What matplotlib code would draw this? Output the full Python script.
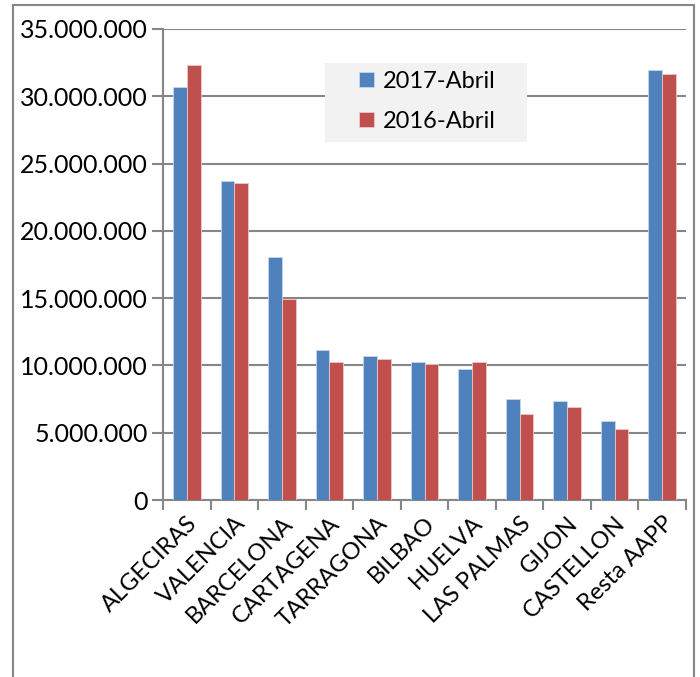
import numpy as np
import matplotlib
matplotlib.use("Agg")
import matplotlib.pyplot as plt
from matplotlib.patches import Rectangle
from matplotlib.ticker import FuncFormatter, FixedLocator

puertos = ["ALGECIRAS", "VALENCIA", "BARCELONA", "CARTAGENA", "TARRAGONA", "BILBAO",
           "HUELVA", "LAS PALMAS", "GIJON", "CASTELLON", "Resta AAPP"]
abril_2017 = [30680000, 23700000, 18030000, 11140000, 10700000, 10230000,
              9730000, 7500000, 7360000, 5850000, 31950000]
abril_2016 = [32300000, 23530000, 14930000, 10250000, 10450000, 10080000,
              10230000, 6370000, 6930000, 5280000, 31650000]
series = ["2017-Abril", "2016-Abril"]

plt.rcParams["font.family"] = ["Lato", "DejaVu Sans"]

W, H = 700, 677
fig = plt.figure(figsize=(W / 100, H / 100), dpi=100)
ax_l, ax_r, ax_t, ax_b = 163, 686, 29, 500
ax = fig.add_axes([ax_l / W, 1 - ax_b / H, (ax_r - ax_l) / W, (ax_b - ax_t) / H])

def px(xp, yp):
    # pixel de la imagen -> coordenadas de ejes
    return (xp - ax_l) / (ax_r - ax_l), (ax_b - yp) / (ax_b - ax_t)

x = np.arange(len(puertos))
w = 0.29
ax.bar(x - w / 2, abril_2017, w, color="#4F81BD", edgecolor="#c8d6ea", linewidth=0.6,
       label=series[0], zorder=3)
ax.bar(x + w / 2, abril_2016, w, color="#C0504D", edgecolor="#ecc8c7", linewidth=0.6,
       label=series[1], zorder=3)

ax.set_xlim(-0.5, len(puertos) - 0.5)
ax.set_ylim(0, 35000000)
ax.set_yticks(np.arange(0, 35000001, 5000000))
ax.yaxis.set_major_formatter(FuncFormatter(lambda v, p: f"{int(v):,}".replace(",", ".")))
ax.grid(axis="y", color="#868686", linewidth=1.5, zorder=0)

ax.set_xticks(x)
ax.set_xticklabels(puertos, rotation=45, ha="right", rotation_mode="anchor", fontsize=17)
ax.xaxis.set_minor_locator(FixedLocator(np.arange(-0.5, len(puertos), 1)))
ax.tick_params(axis="x", which="major", length=0, pad=9)
ax.tick_params(axis="x", which="minor", length=7, width=1.5, color="#868686")
ax.tick_params(axis="y", length=8, width=1.5, color="#868686", labelsize=18, pad=3)

for s in ["top", "right"]:
    ax.spines[s].set_visible(False)
for s in ["left", "bottom"]:
    ax.spines[s].set_color("#868686")
    ax.spines[s].set_linewidth(1.5)

# fondo de la leyenda
bx0, by0 = px(325, 142)
bx1, by1 = px(527, 63)
ax.add_patch(Rectangle((bx0, by0), bx1 - bx0, by1 - by0, transform=ax.transAxes,
                       facecolor="#f2f2f2", edgecolor="none", zorder=4, clip_on=False))
leg = ax.legend(loc="upper left", bbox_to_anchor=px(359, 71), frameon=False,
                fontsize=17, handlelength=0.62, handleheight=0.62, handletextpad=0.4,
                labelspacing=0.8, borderpad=0, borderaxespad=0)
leg.set_zorder(5)

# marco del gráfico
fig.patches.append(Rectangle((13 / W, -0.05), 681 / W, 1.05 - 5 / H,
                             transform=fig.transFigure, fill=False,
                             edgecolor="#868686", linewidth=1.5))

fig.savefig("out.png", dpi=100)
